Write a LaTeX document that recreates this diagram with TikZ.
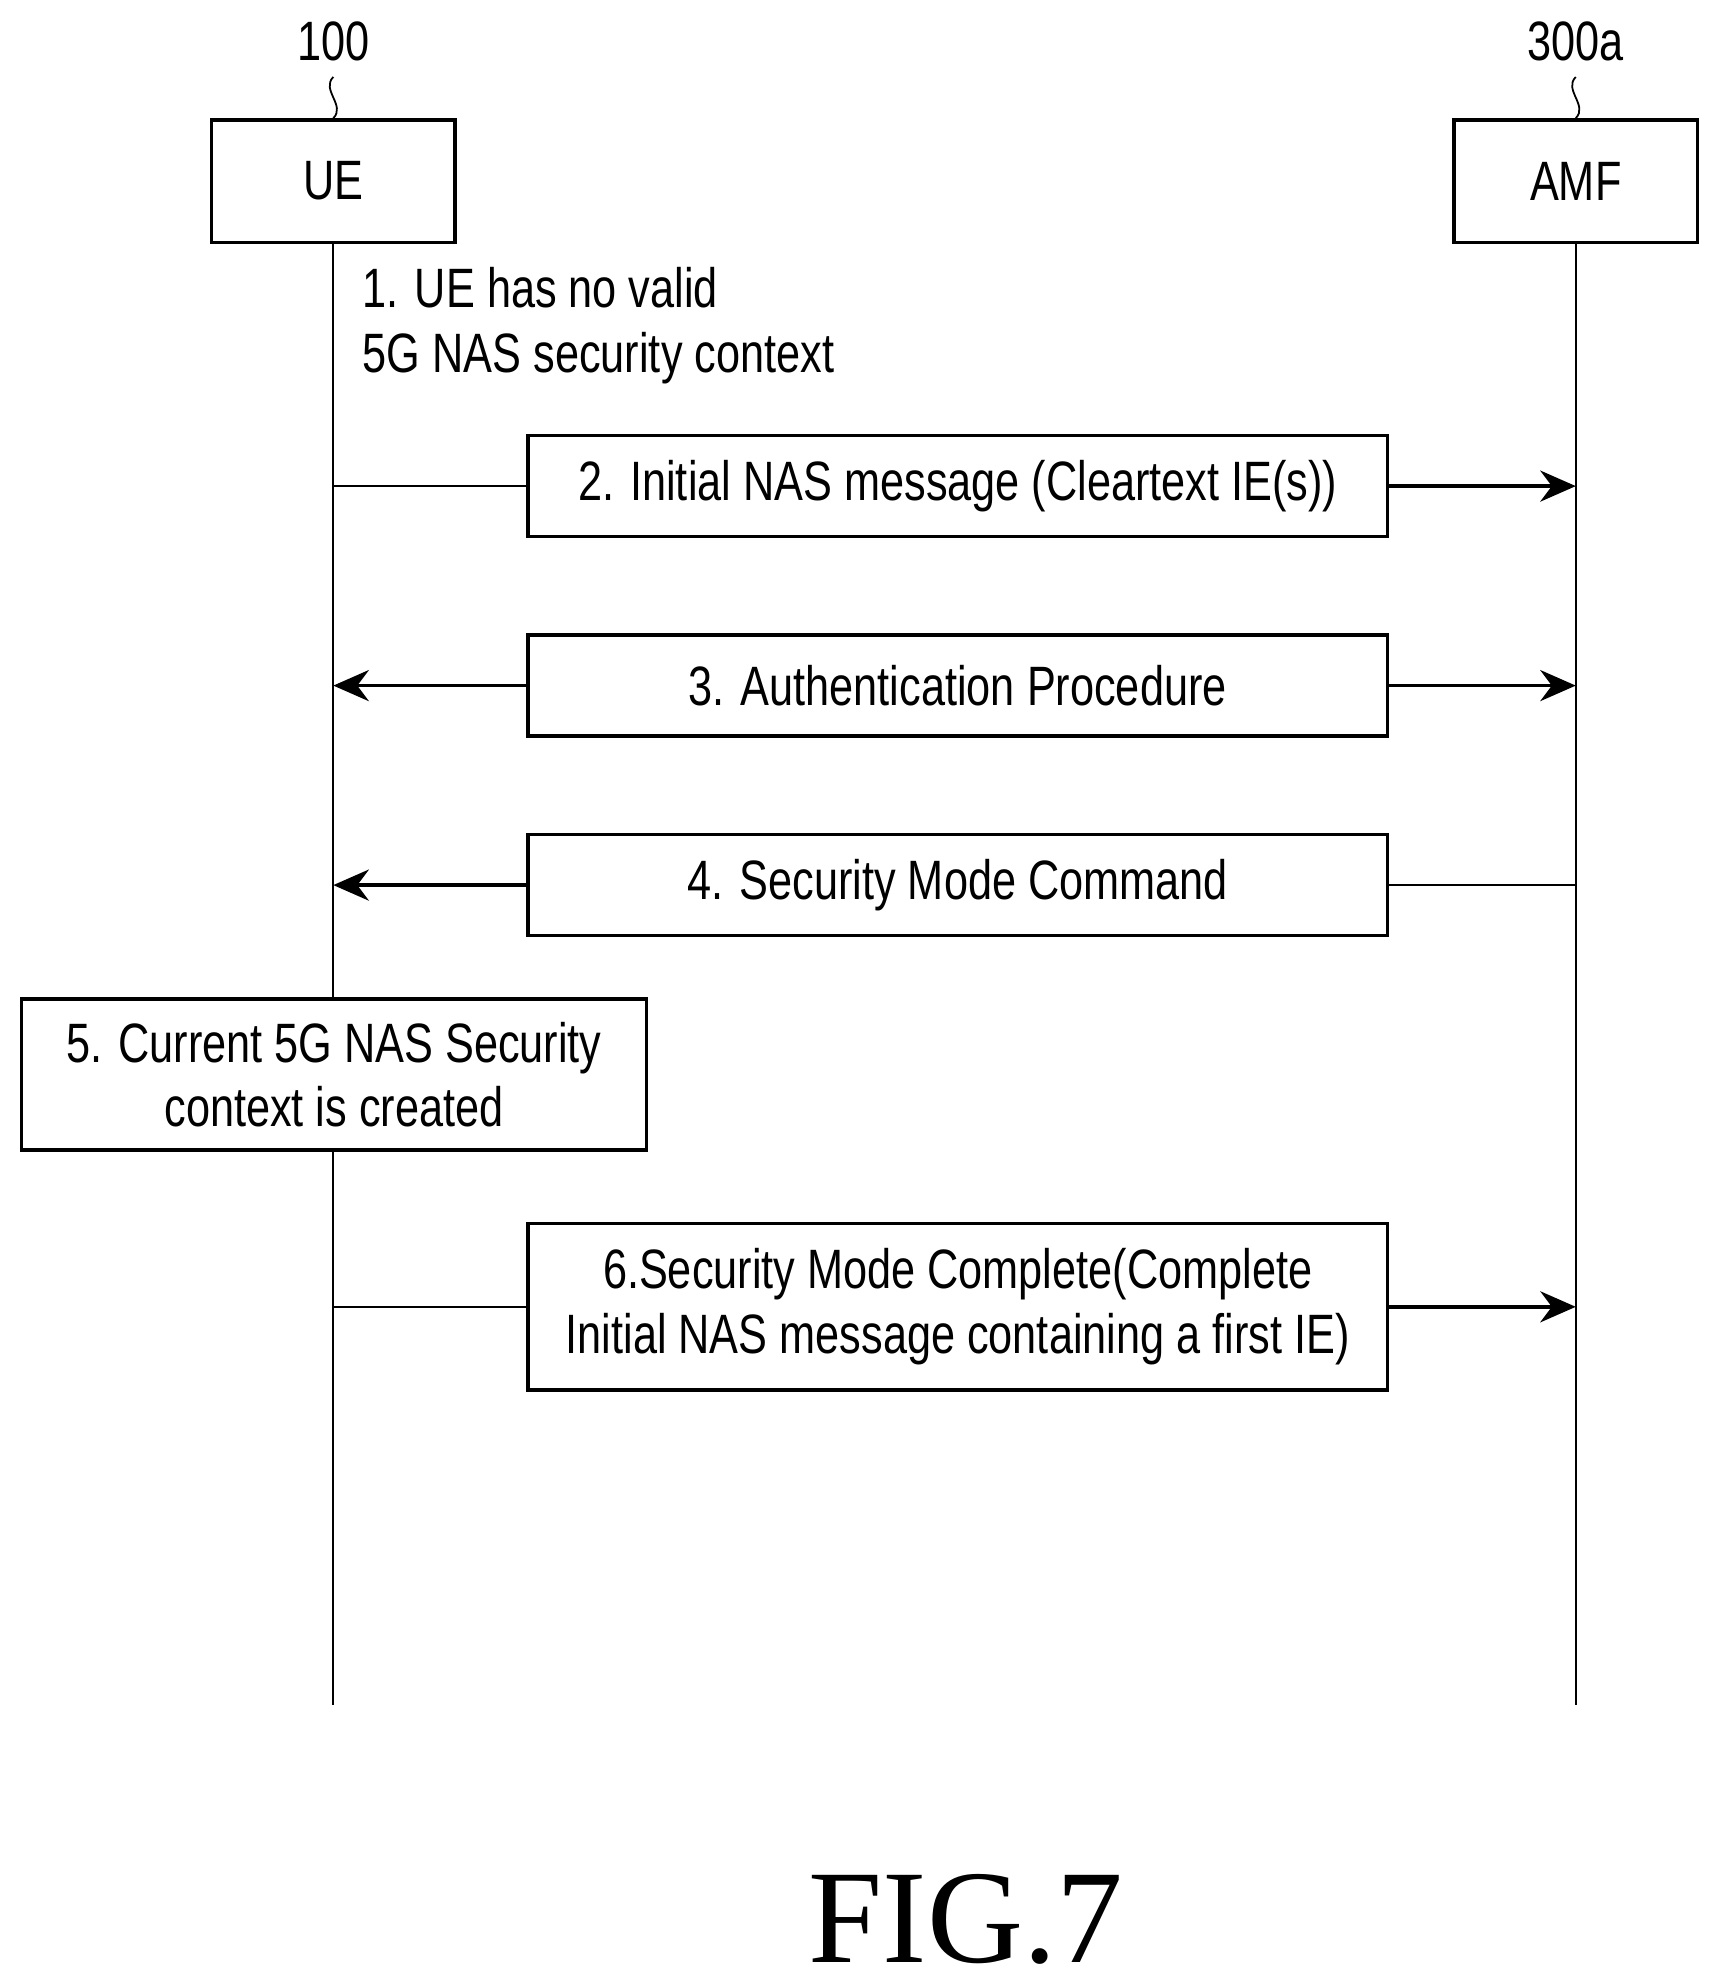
\documentclass[tikz,border=0pt]{standalone}
\usepackage{fontspec}
\setmainfont{Liberation Sans}[FakeStretch=0.78]
\newfontfamily\figfont{Liberation Serif}
\usetikzlibrary{positioning, calc, arrows.meta}

\begin{document}
\begin{tikzpicture}[x=1cm, y=-1cm,
    every node/.style={font=\fontsize{12.5}{14.5}\selectfont},
    ent/.style={draw, thick, minimum width=1.93cm, minimum height=0.97cm},
    msg/.style={draw, thick, minimum width=6.81cm, minimum height=0.8cm, align=center},
    arr/.style={thick, -{Stealth[length=8pt, width=7pt]}}]
      \useasboundingbox (0,0) rectangle (13.6,15.65);

      \coordinate (uex)  at (2.64,0);
      \coordinate (amfx) at (12.48,0);

      \node[ent] (ue)  at (2.64,1.435)  {UE};
      \node[ent] (amf) at (12.48,1.435) {AMF};
      \node (uelbl)  at (2.64,0.33)  {100};
      \node (amflbl) at (12.48,0.33) {300a};

      \draw[thin] (uelbl.south) .. controls +(-0.1,0.1) and +(0.1,-0.1) .. (ue.north);   %squiggle
      \draw[thin] (amflbl.south) .. controls +(-0.1,0.1) and +(0.1,-0.1) .. (amf.north);

      \coordinate (uebot)  at (2.64,13.5);
      \coordinate (amfbot) at (12.48,13.5);
      \draw[thin] (ue.south)  -- (uebot);
      \draw[thin] (amf.south) -- (amfbot);

      \node[anchor=west, align=left] (step1) at (2.75,2.58) {1. UE has no valid\\5G NAS security context};

      \node[msg] (step2) at (7.585,3.85) {2. Initial NAS message (Cleartext IE(s))};
      \node[msg] (step3) at (7.585,5.43) {3. Authentication Procedure};
      \node[msg] (step4) at (7.585,7.01) {4. Security Mode Command};
      \node[draw, thick, fill=white, minimum width=4.95cm, minimum height=1.2cm, align=center]
            (step5) at (2.645,8.51) {5. Current 5G NAS Security\\context is created};
      \node[msg, minimum height=1.32cm] (step6) at (7.585,10.35)
            {6.Security Mode Complete(Complete\\Initial NAS message containing a first IE)};

      \draw[thin] (step2.west -| uex) -- (step2.west);
      \draw[arr]  (step2.east) -- (step2.east -| amfx);
      \draw[arr]  (step3.west) -- (step3.west -| uex);
      \draw[arr]  (step3.east) -- (step3.east -| amfx);
      \draw[arr]  (step4.west) -- (step4.west -| uex);
      \draw[thin] (step4.east) -- (step4.east -| amfx);
      \draw[thin] (step6.west -| uex) -- (step6.west);
      \draw[arr]  (step6.east) -- (step6.east -| amfx);

      \node (fig) at (7.65,15.2) {\figfont\fontsize{30}{34}\selectfont FIG.7};
\end{tikzpicture}
\end{document}
